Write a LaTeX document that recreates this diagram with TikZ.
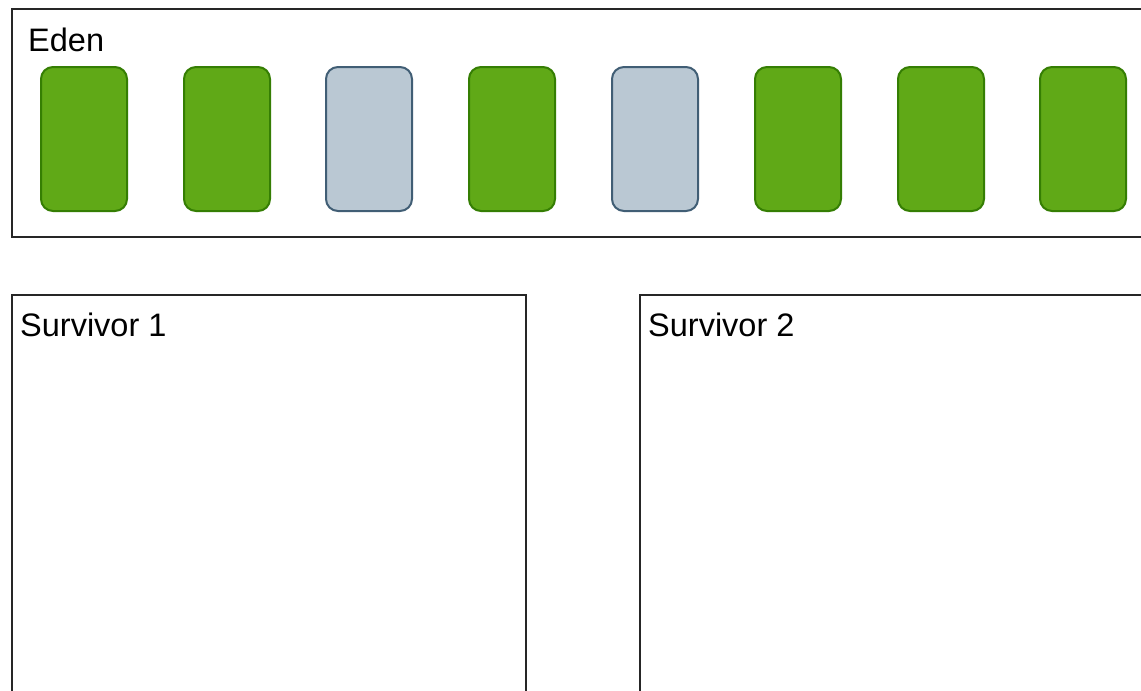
\documentclass[tikz,border=0pt]{standalone}
\usepackage{fontspec}
\setmainfont{Liberation Sans}
\definecolor{gfill}{HTML}{60A917}
\definecolor{gdraw}{HTML}{2D7600}
\definecolor{bfill}{HTML}{BAC8D3}
\definecolor{bdraw}{HTML}{23445D}
\begin{document}
\begin{tikzpicture}[x=1pt,y=-1pt,
  region/.style={draw=black!85,line width=2pt},
  lbl/.style={anchor=base west,inner sep=0pt,font=\fontsize{32.5}{38}\selectfont},
  blk/.style={rounded corners=12pt,line width=2pt,minimum width=86pt,minimum height=144pt,inner sep=0pt,anchor=north west},
  live/.style={blk,fill=gfill,draw=gdraw!85!gfill},
  dead/.style={blk,fill=bfill,draw=bdraw!80!bfill}]
\useasboundingbox (0,0) rectangle (1141,691);
\fill[white] (0,0) rectangle (1141,691);
\draw[region] (1150,9) -- (12,9) -- (12,237) -- (1150,237);
\node[lbl] (eden) at (28,51) {Eden};
\draw[region] (12,700) -- (12,295) -- (526,295) -- (526,700);
\node[lbl] (s1) at (20,336) {Survivor 1};
\draw[region] (640,700) -- (640,295) -- (1150,295);
\node[lbl] (s2) at (648,336) {Survivor 2};
\node[live] (b1) at (40,66) {};
\node[live] (b2) at (183,66) {};
\node[dead] (b3) at (325,66) {};
\node[live] (b4) at (468,66) {};
\node[dead] (b5) at (611,66) {};
\node[live] (b6) at (754,66) {};
\node[live] (b7) at (897,66) {};
\node[live] (b8) at (1039,66) {};
\end{tikzpicture}
\end{document}
